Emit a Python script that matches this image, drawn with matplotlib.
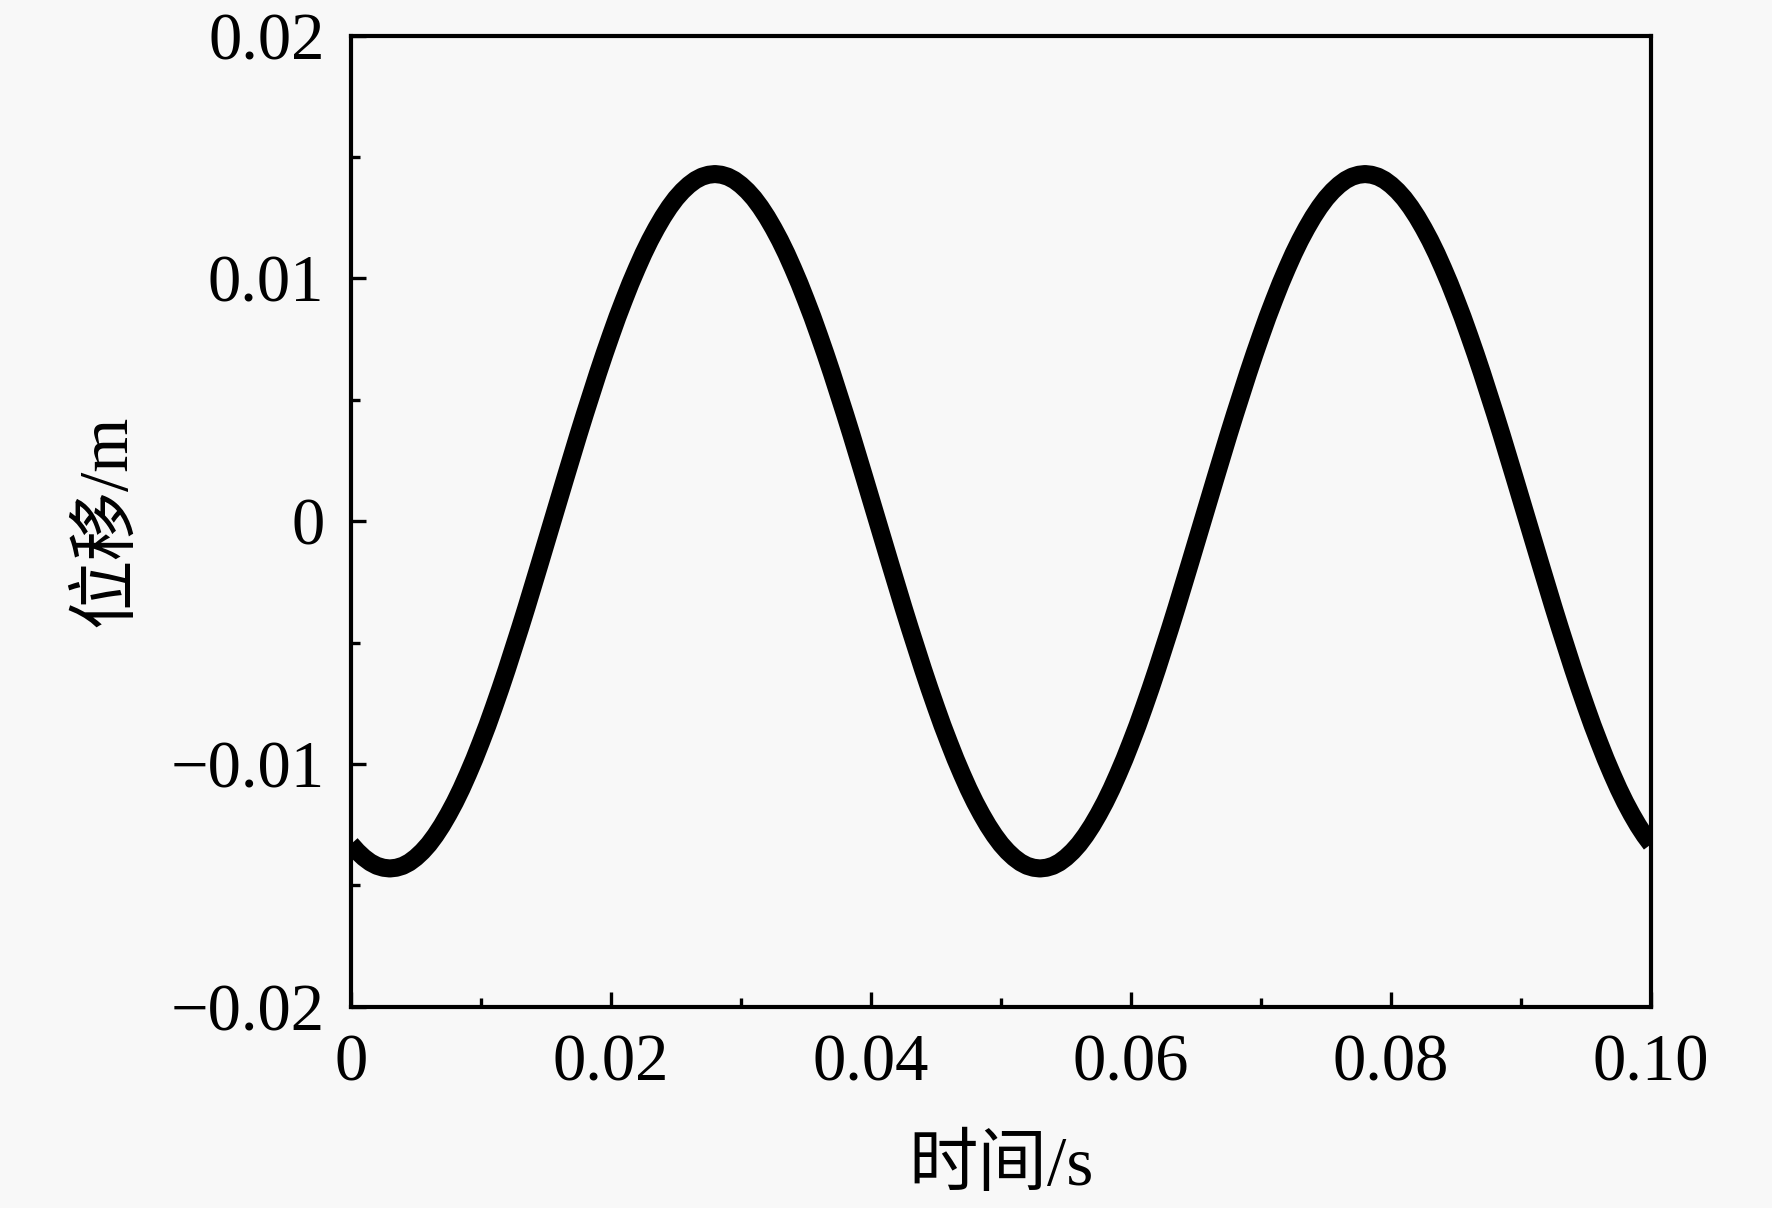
import numpy as np
import matplotlib
matplotlib.use("Agg")
import matplotlib.pyplot as plt
from matplotlib.ticker import MultipleLocator, FixedFormatter, FixedLocator

# data (t step 0.0005 s)
displacement = [
    -0.01330, -0.01360, -0.01385, -0.01405, -0.01419, -0.01427, -0.01430, -0.01427, -0.01419, -0.01405,
    -0.01385, -0.01360, -0.01330, -0.01294, -0.01253, -0.01207, -0.01157, -0.01102, -0.01042, -0.00979,
    -0.00911, -0.00841, -0.00766, -0.00689, -0.00609, -0.00526, -0.00442, -0.00356, -0.00268, -0.00179,
    -0.00090, 0.00000, 0.00090, 0.00179, 0.00268, 0.00356, 0.00442, 0.00526, 0.00609, 0.00689,
    0.00766, 0.00841, 0.00911, 0.00979, 0.01042, 0.01102, 0.01157, 0.01207, 0.01253, 0.01294,
    0.01330, 0.01360, 0.01385, 0.01405, 0.01419, 0.01427, 0.01430, 0.01427, 0.01419, 0.01405,
    0.01385, 0.01360, 0.01330, 0.01294, 0.01253, 0.01207, 0.01157, 0.01102, 0.01042, 0.00979,
    0.00911, 0.00841, 0.00766, 0.00689, 0.00609, 0.00526, 0.00442, 0.00356, 0.00268, 0.00179,
    0.00090, 0.00000, -0.00090, -0.00179, -0.00268, -0.00356, -0.00442, -0.00526, -0.00609, -0.00689,
    -0.00766, -0.00841, -0.00911, -0.00979, -0.01042, -0.01102, -0.01157, -0.01207, -0.01253, -0.01294,
    -0.01330, -0.01360, -0.01385, -0.01405, -0.01419, -0.01427, -0.01430, -0.01427, -0.01419, -0.01405,
    -0.01385, -0.01360, -0.01330, -0.01294, -0.01253, -0.01207, -0.01157, -0.01102, -0.01042, -0.00979,
    -0.00911, -0.00841, -0.00766, -0.00689, -0.00609, -0.00526, -0.00442, -0.00356, -0.00268, -0.00179,
    -0.00090, 0.00000, 0.00090, 0.00179, 0.00268, 0.00356, 0.00442, 0.00526, 0.00609, 0.00689,
    0.00766, 0.00841, 0.00911, 0.00979, 0.01042, 0.01102, 0.01157, 0.01207, 0.01253, 0.01294,
    0.01330, 0.01360, 0.01385, 0.01405, 0.01419, 0.01427, 0.01430, 0.01427, 0.01419, 0.01405,
    0.01385, 0.01360, 0.01330, 0.01294, 0.01253, 0.01207, 0.01157, 0.01102, 0.01042, 0.00979,
    0.00911, 0.00841, 0.00766, 0.00689, 0.00609, 0.00526, 0.00442, 0.00356, 0.00268, 0.00179,
    0.00090, 0.00000, -0.00090, -0.00179, -0.00268, -0.00356, -0.00442, -0.00526, -0.00609, -0.00689,
    -0.00766, -0.00841, -0.00911, -0.00979, -0.01042, -0.01102, -0.01157, -0.01207, -0.01253, -0.01294,
    -0.01330,
]
time = np.round(np.arange(len(displacement)) * 0.0005, 4)

x_ticks = [0, 0.02, 0.04, 0.06, 0.08, 0.10]
x_ticklabels = ["0", "0.02", "0.04", "0.06", "0.08", "0.10"]
y_ticks = [-0.02, -0.01, 0, 0.01, 0.02]
y_ticklabels = ["\u22120.02", "\u22120.01", "0", "0.01", "0.02"]
x_label = "时间/s"
y_label = "位移/m"

fams = ["Liberation Serif", "Noto Sans CJK SC", "DejaVu Sans"]
plt.rcParams["font.family"] = fams

bg = "#f8f8f8"
fig = plt.figure(figsize=(17.72, 12.08), dpi=100, facecolor=bg)
ax = fig.add_axes([0.1980, 0.1665, 0.7338, 0.8040])
ax.set_facecolor(bg)

ax.plot(time, displacement, color="black", lw=13, solid_joinstyle="round", solid_capstyle="butt")

ax.set_xlim(0, 0.1)
ax.set_ylim(-0.02, 0.02)
ax.xaxis.set_major_locator(FixedLocator(x_ticks))
ax.xaxis.set_major_formatter(FixedFormatter(x_ticklabels))
ax.yaxis.set_major_locator(FixedLocator(y_ticks))
ax.yaxis.set_major_formatter(FixedFormatter(y_ticklabels))
ax.xaxis.set_minor_locator(MultipleLocator(0.01))
ax.yaxis.set_minor_locator(MultipleLocator(0.005))

for s in ax.spines.values():
    s.set_linewidth(3.0)
    s.set_color("black")

ax.tick_params(which="both", direction="in", top=False, right=False, color="black")
ax.tick_params(which="major", length=11, width=2.4, labelsize=48, pad=19)
ax.tick_params(which="minor", length=6.5, width=2.4)
for lab in ax.get_xticklabels() + ax.get_yticklabels():
    lab.set_family(fams)

ax.set_xlabel(x_label, fontsize=50, family=fams, labelpad=30)
ax.set_ylabel(y_label, fontsize=50, family=fams, labelpad=22)

fig.savefig("out.png", dpi=100, facecolor=bg)
